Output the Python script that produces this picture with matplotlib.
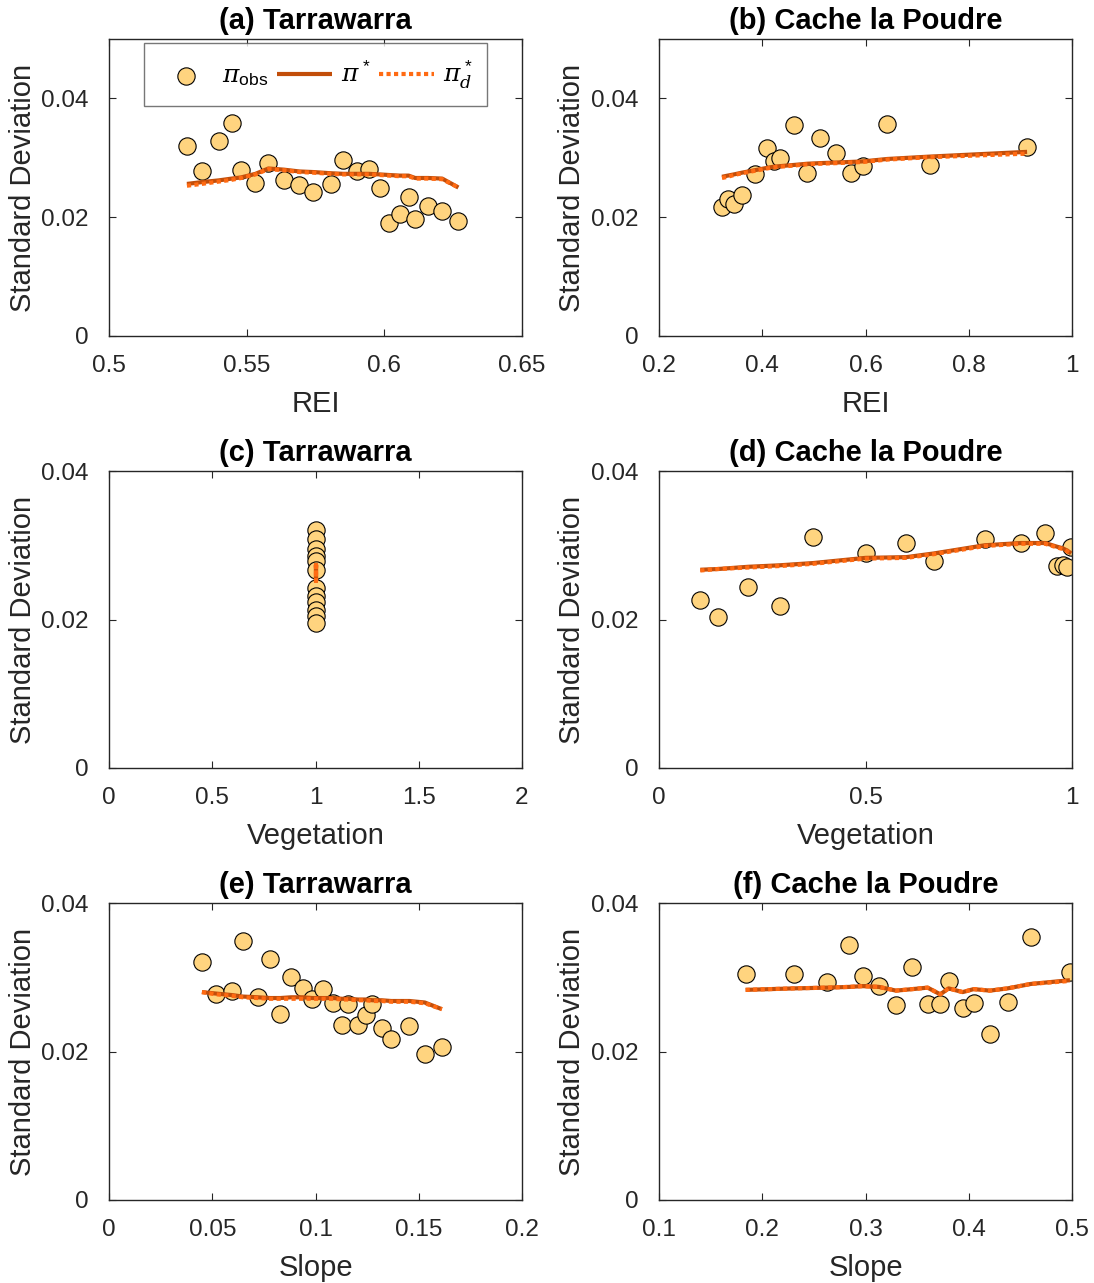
import matplotlib
matplotlib.use("Agg")
import matplotlib.pyplot as plt
from matplotlib.ticker import FixedLocator, FuncFormatter

plt.rcParams['font.family'] = ['Liberation Sans', 'DejaVu Sans']
plt.rcParams['mathtext.fontset'] = 'custom'
plt.rcParams['mathtext.rm'] = 'Liberation Sans'
plt.rcParams['mathtext.it'] = 'DejaVu Serif:italic'

# ---------------- data ----------------
# (a) Tarrawarra, REI
a_x = [0.5283, 0.5336, 0.5399, 0.5446, 0.5480, 0.5532, 0.5579, 0.5636, 0.5691, 0.5742, 0.5805,
       0.5851, 0.5899, 0.5944, 0.5984, 0.6018, 0.6056, 0.6088, 0.6112, 0.6159, 0.6210, 0.6269]
a_obs = [0.0320, 0.0277, 0.0329, 0.0358, 0.0280, 0.0257, 0.0292, 0.0263, 0.0254, 0.0242, 0.0256,
         0.0296, 0.0277, 0.0281, 0.0249, 0.0190, 0.0206, 0.0234, 0.0197, 0.0219, 0.0211, 0.0193]
a_pi = [0.0256, 0.0259, 0.0262, 0.0265, 0.0267, 0.0273, 0.0282, 0.0280, 0.0277, 0.0276, 0.0274,
        0.0273, 0.0273, 0.0273, 0.0272, 0.0271, 0.0270, 0.0270, 0.0266, 0.0266, 0.0265, 0.0250]
a_pid = [0.0253, 0.0256, 0.0260, 0.0263, 0.0266, 0.0272, 0.0281, 0.0279, 0.0276, 0.0275, 0.0273,
         0.0272, 0.0272, 0.0272, 0.0271, 0.0270, 0.0269, 0.0269, 0.0265, 0.0265, 0.0264, 0.0250]

# (b) Cache la Poudre, REI
b_x = [0.322, 0.333, 0.345, 0.361, 0.385, 0.409, 0.422, 0.435, 0.462, 0.487, 0.511, 0.543,
       0.571, 0.596, 0.642, 0.724, 0.913]
b_obs = [0.0218, 0.0230, 0.0222, 0.0238, 0.0273, 0.0317, 0.0294, 0.0299, 0.0355, 0.0274, 0.0334,
         0.0308, 0.0275, 0.0287, 0.0357, 0.0288, 0.0318]
b_pi = [0.0268, 0.0270, 0.0272, 0.0275, 0.0279, 0.0283, 0.0285, 0.0286, 0.0288, 0.0290, 0.0291,
        0.0292, 0.0293, 0.0294, 0.0298, 0.0302, 0.0310]
b_pid = [0.0266, 0.0268, 0.0271, 0.0274, 0.0278, 0.0282, 0.0284, 0.0285, 0.0287, 0.0289, 0.0290,
         0.0291, 0.0292, 0.0293, 0.0297, 0.0301, 0.0307]

# (c) Tarrawarra, Vegetation
c_x = [1, 1, 1, 1, 1, 1, 1, 1, 1, 1, 1, 1]
c_obs = [0.0321, 0.0308, 0.0295, 0.0286, 0.0279, 0.0266, 0.0242, 0.0232, 0.0223, 0.0213, 0.0205, 0.0195]
c_pi = [0.0275, 0.0270, 0.0265, 0.0260, 0.0255, 0.0252, 0.0258, 0.0262, 0.0268, 0.0272, 0.0274, 0.0270]
c_pid = [0.0274, 0.0269, 0.0264, 0.0259, 0.0254, 0.0252, 0.0257, 0.0261, 0.0267, 0.0271, 0.0273, 0.0269]

# (d) Cache la Poudre, Vegetation
d_x = [0.100, 0.143, 0.216, 0.292, 0.373, 0.500, 0.599, 0.666, 0.789, 0.877, 0.935, 0.964, 0.977, 0.988, 0.998]
d_obs = [0.0226, 0.0204, 0.0244, 0.0218, 0.0311, 0.0289, 0.0303, 0.0279, 0.0309, 0.0303, 0.0317,
         0.0272, 0.0274, 0.0271, 0.0298]
d_pi = [0.0267, 0.0268, 0.0271, 0.0273, 0.0276, 0.0283, 0.0284, 0.0289, 0.0300, 0.0303, 0.0303,
        0.0298, 0.0296, 0.0293, 0.0289]
d_pid = [0.0266, 0.0268, 0.0270, 0.0272, 0.0275, 0.0282, 0.0283, 0.0288, 0.0299, 0.0302, 0.0302,
         0.0297, 0.0295, 0.0292, 0.0288]

# (e) Tarrawarra, Slope
e_x = [0.0450, 0.0519, 0.0595, 0.0648, 0.0720, 0.0780, 0.0830, 0.0882, 0.0940, 0.0985, 0.1036,
       0.1086, 0.1128, 0.1159, 0.1207, 0.1243, 0.1276, 0.1320, 0.1367, 0.1455, 0.1529, 0.1612]
e_obs = [0.0320, 0.0278, 0.0281, 0.0349, 0.0274, 0.0324, 0.0251, 0.0300, 0.0286, 0.0271, 0.0284,
         0.0265, 0.0236, 0.0264, 0.0236, 0.0249, 0.0264, 0.0232, 0.0217, 0.0235, 0.0197, 0.0206]
e_pi = [0.0280, 0.0278, 0.0276, 0.0274, 0.0273, 0.0272, 0.0272, 0.0273, 0.0273, 0.0272, 0.0272,
        0.0272, 0.0271, 0.0271, 0.0270, 0.0270, 0.0269, 0.0269, 0.0268, 0.0268, 0.0266, 0.0257]
e_pid = [0.0280, 0.0277, 0.0275, 0.0273, 0.0272, 0.0271, 0.0271, 0.0271, 0.0271, 0.0271, 0.0271,
         0.0271, 0.0270, 0.0270, 0.0269, 0.0269, 0.0268, 0.0268, 0.0267, 0.0267, 0.0265, 0.0257]

# (f) Cache la Poudre, Slope
f_x = [0.1839, 0.2307, 0.2627, 0.2843, 0.2972, 0.3130, 0.3295, 0.3453, 0.3602, 0.3724, 0.3805,
       0.3941, 0.4047, 0.4205, 0.4376, 0.4602, 0.4980]
f_obs = [0.0304, 0.0305, 0.0293, 0.0344, 0.0302, 0.0288, 0.0263, 0.0314, 0.0264, 0.0264, 0.0295,
         0.0259, 0.0265, 0.0224, 0.0267, 0.0354, 0.0307]
f_pi = [0.0283, 0.0285, 0.0286, 0.0287, 0.0288, 0.0287, 0.0282, 0.0284, 0.0286, 0.0277, 0.0285,
        0.0280, 0.0284, 0.0282, 0.0285, 0.0291, 0.0296]
f_pid = [0.0283, 0.0285, 0.0286, 0.0287, 0.0288, 0.0287, 0.0282, 0.0284, 0.0286, 0.0277, 0.0285,
         0.0280, 0.0284, 0.0282, 0.0285, 0.0291, 0.0295]

titles = ['(a) Tarrawarra', '(b) Cache la Poudre', '(c) Tarrawarra',
          '(d) Cache la Poudre', '(e) Tarrawarra', '(f) Cache la Poudre']
xlabels = ['REI', 'REI', 'Vegetation', 'Vegetation', 'Slope', 'Slope']
ylabel = 'Standard Deviation'
xlims = [(0.5, 0.65), (0.2, 1.0), (0, 2), (0, 1), (0, 0.2), (0.1, 0.5)]
xticks = [[0.5, 0.55, 0.6, 0.65], [0.2, 0.4, 0.6, 0.8, 1.0], [0, 0.5, 1, 1.5, 2],
          [0, 0.5, 1], [0, 0.05, 0.1, 0.15, 0.2], [0.1, 0.2, 0.3, 0.4, 0.5]]
ylims = [(0, 0.05), (0, 0.05), (0, 0.04), (0, 0.04), (0, 0.04), (0, 0.04)]
yticks = [0, 0.02, 0.04]

panels = [(a_x, a_obs, a_pi, a_pid), (b_x, b_obs, b_pi, b_pid), (c_x, c_obs, c_pi, c_pid),
          (d_x, d_obs, d_pi, d_pid), (e_x, e_obs, e_pi, e_pid), (f_x, f_obs, f_pi, f_pid)]

# ---------------- style ----------------
W, H = 1094, 1283
fig = plt.figure(figsize=(W / 100, H / 100), dpi=100)
axcol = '#262626'
face = '#FFD47F'
solid_col = '#C24E0A'
dot_col = '#FF6A12'

lefts = [109, 659]
tops = [39, 471, 903]
aw, ah = 413, 297

fmt = FuncFormatter(lambda v, p: ('%g' % round(v, 6)))

for i, (xs, obs, pi, pid) in enumerate(panels):
    r, c = divmod(i, 2)
    ax = fig.add_axes([lefts[c] / W, 1 - (tops[r] + ah) / H, aw / W, ah / H])
    h1 = ax.scatter(xs, obs, s=155, facecolor=face, edgecolor='black', linewidths=0.8,
                    zorder=2, label=r'$\pi_{\rm obs}$')
    h2, = ax.plot(xs, pi, color=solid_col, lw=3.0, solid_capstyle='butt', zorder=3,
                  label=r'$\pi^*$')
    h3, = ax.plot(xs, pid, color=dot_col, lw=3.0, linestyle=(0, (1.0, 0.8)),
                  dash_capstyle='butt', zorder=4, label=r'$\pi^*_d$')
    ax.set_xlim(*xlims[i])
    ax.set_ylim(*ylims[i])
    ax.xaxis.set_major_locator(FixedLocator(xticks[i]))
    ax.yaxis.set_major_locator(FixedLocator(yticks))
    ax.xaxis.set_major_formatter(fmt)
    ax.yaxis.set_major_formatter(fmt)
    ax.tick_params(direction='in', length=5, width=0.8, colors=axcol, labelsize=17.5,
                   top=True, right=True)
    ax.tick_params(axis='x', pad=14)
    ax.tick_params(axis='y', pad=15)
    for sp in ax.spines.values():
        sp.set_color(axcol)
        sp.set_linewidth(1.0)
    ax.set_title(titles[i], fontsize=21, fontweight='bold', pad=7, color='black')
    ax.set_xlabel(xlabels[i], fontsize=21, color=axcol, labelpad=9)
    ax.set_ylabel(ylabel, fontsize=21, color=axcol, labelpad=3)
    if i == 0:
        leg = ax.legend(handles=[h1, h2, h3], ncol=3, loc='upper center',
                        bbox_to_anchor=(0.5, 0.985), fontsize=18, frameon=True,
                        fancybox=False, edgecolor='#555555', handlelength=2.2,
                        columnspacing=0.35, handletextpad=0.35, borderpad=0.6,
                        borderaxespad=0.0, markerscale=1.0)
        leg.get_frame().set_linewidth(1.0)

fig.savefig('out.png', dpi=100)
